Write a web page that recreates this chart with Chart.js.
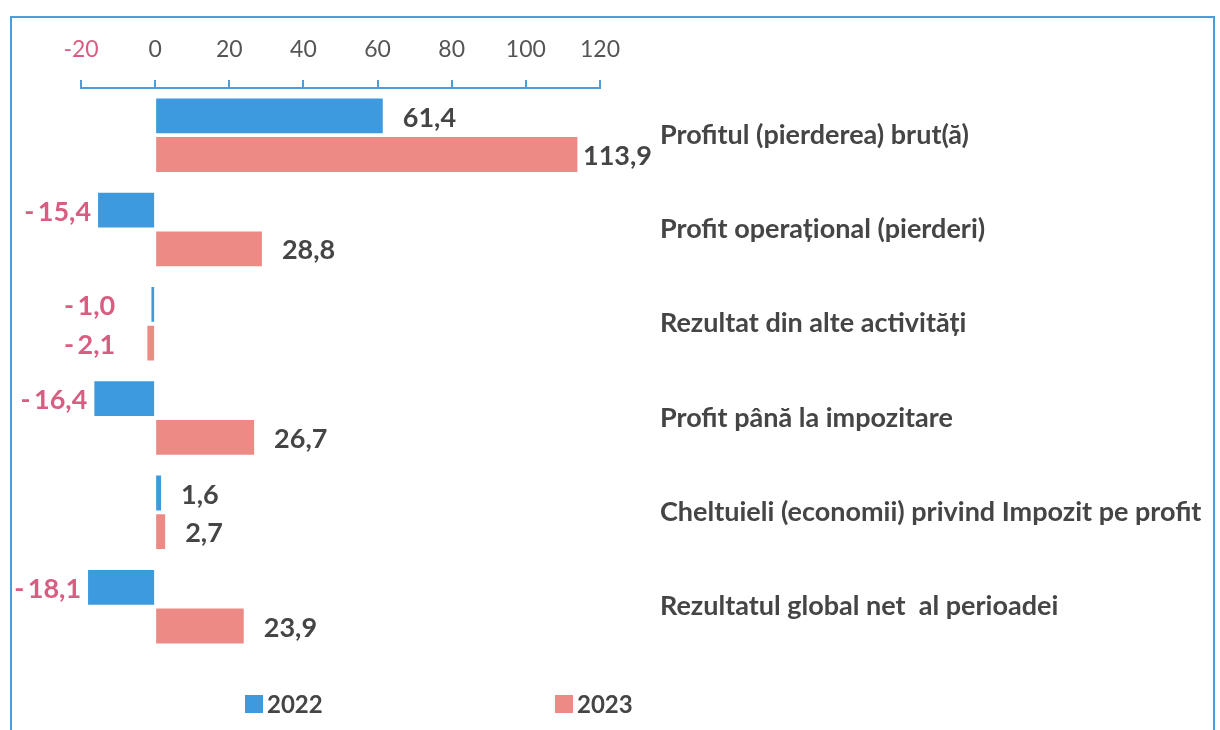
<!DOCTYPE html>
<html>
<head>
<meta charset="utf-8">
<script src="https://cdn.jsdelivr.net/npm/chart.js@4/dist/chart.umd.min.js"></script>
<style>
    body { margin: 0; background: #fff; }
    #wrap { position: relative; width: 1220px; height: 730px; overflow: hidden; }
    #frame {
        position: absolute; left: 10px; top: 16px; width: 1205px; height: 740px;
        border: 2px solid #4d9dd8; box-sizing: border-box;
    }
    #chart { position: absolute; left: 0; top: 0; }
</style>
</head>
<body>
<div id="wrap">
    <div id="frame"></div>
    <canvas id="chart" width="1220" height="730"></canvas>
</div>
<script>
const categories = [
    'Profitul (pierderea) brut(ă)',
    'Profit operațional (pierderi)',
    'Rezultat din alte activități',
    'Profit până la impozitare',
    'Cheltuieli (economii) privind Impozit pe profit',
    'Rezultatul global net  al perioadei'
];
const values2022 = [61.4, -15.4, -1.0, -16.4, 1.6, -18.1];
const values2023 = [113.9, 28.8, -2.1, 26.7, 2.7, 23.9];
const seriesLabels = ['2022', '2023'];
const xMin = -20;
const xMax = 120;
const xStep = 20;

const BLUE = '#3e9ade';
const PINK = '#ec8b86';
const TEXT = '#454545';
const NEG = '#d95d80';
const AXIS = '#4d9dd8';
const FONT = 'Lato, "Open Sans", sans-serif';

function formatValue(v) {
    const s = Math.abs(v).toFixed(1).replace('.', ',');
    return v < 0 ? '-\u2009' + s : s;
}

// value labels next to each bar end
const valueLabels = {
    id: 'valueLabels',
    afterDatasetsDraw(chart) {
        const ctx = chart.ctx;
        const area = chart.chartArea;
        const zeroX = chart.scales.x.getPixelForValue(0);
        ctx.save();
        ctx.font = 'bold 27px ' + FONT;
        ctx.textBaseline = 'middle';
        chart.data.datasets.forEach((ds, i) => {
            const meta = chart.getDatasetMeta(i);
            meta.data.forEach((bar, j) => {
                const v = ds.data[j];
                const text = formatValue(v);
                if (v >= 0) {
                    ctx.fillStyle = TEXT;
                    ctx.textAlign = 'left';
                    ctx.fillText(text, Math.min(bar.x + 20, area.right - 17), bar.y + 2);
                } else {
                    ctx.fillStyle = NEG;
                    ctx.textAlign = 'right';
                    ctx.fillText(text, Math.min(bar.x - 7, zeroX - 40), bar.y + 2);
                }
            });
        });
        ctx.restore();
    }
};

const customLegend = {
    id: 'customLegend',
    afterDraw(chart) {
        const ctx = chart.ctx;
        const starts = [245, 555];
        const y = 704;
        ctx.save();
        ctx.font = 'bold 24px ' + FONT;
        ctx.textBaseline = 'middle';
        ctx.textAlign = 'left';
        chart.data.datasets.forEach((ds, i) => {
            ctx.fillStyle = ds.backgroundColor;
            ctx.fillRect(starts[i], y - 9, 18, 18);
            ctx.fillStyle = TEXT;
            ctx.fillText(ds.label, starts[i] + 22, y + 1);
        });
        ctx.restore();
    }
};

new Chart(document.getElementById('chart'), {
    type: 'bar',
    data: {
        labels: categories,
        datasets: [
            { label: seriesLabels[0], data: values2022, backgroundColor: BLUE },
            { label: seriesLabels[1], data: values2023, backgroundColor: PINK }
        ]
    },
    options: {
        indexAxis: 'y',
        responsive: false,
        animation: false,
        devicePixelRatio: 1,
        categoryPercentage: 0.82,
        barPercentage: 0.9,
        layout: { padding: { left: 81, right: 0, top: 0, bottom: 56 } },
        plugins: {
            legend: { display: false },
            tooltip: { enabled: false }
        },
        scales: {
            x: {
                position: 'top',
                min: xMin,
                max: xMax,
                afterFit: (scale) => { scale.height = 88; },
                ticks: {
                    stepSize: xStep,
                    padding: 17,
                    font: { family: FONT, size: 23 },
                    color: (c) => (c.tick && c.tick.value < 0 ? NEG : '#555555')
                },
                grid: {
                    drawOnChartArea: false,
                    drawTicks: true,
                    tickLength: 8,
                    color: AXIS,
                    lineWidth: 2
                },
                border: { display: true, color: AXIS, width: 2 }
            },
            y: {
                position: 'right',
                afterFit: (scale) => { scale.width = 620; },
                ticks: {
                    padding: 60,
                    font: { family: FONT, size: 27, weight: 'bold' },
                    color: TEXT
                },
                grid: { display: false, drawTicks: false },
                border: { display: false }
            }
        }
    },
    plugins: [valueLabels, customLegend]
});
</script>
</body>
</html>
